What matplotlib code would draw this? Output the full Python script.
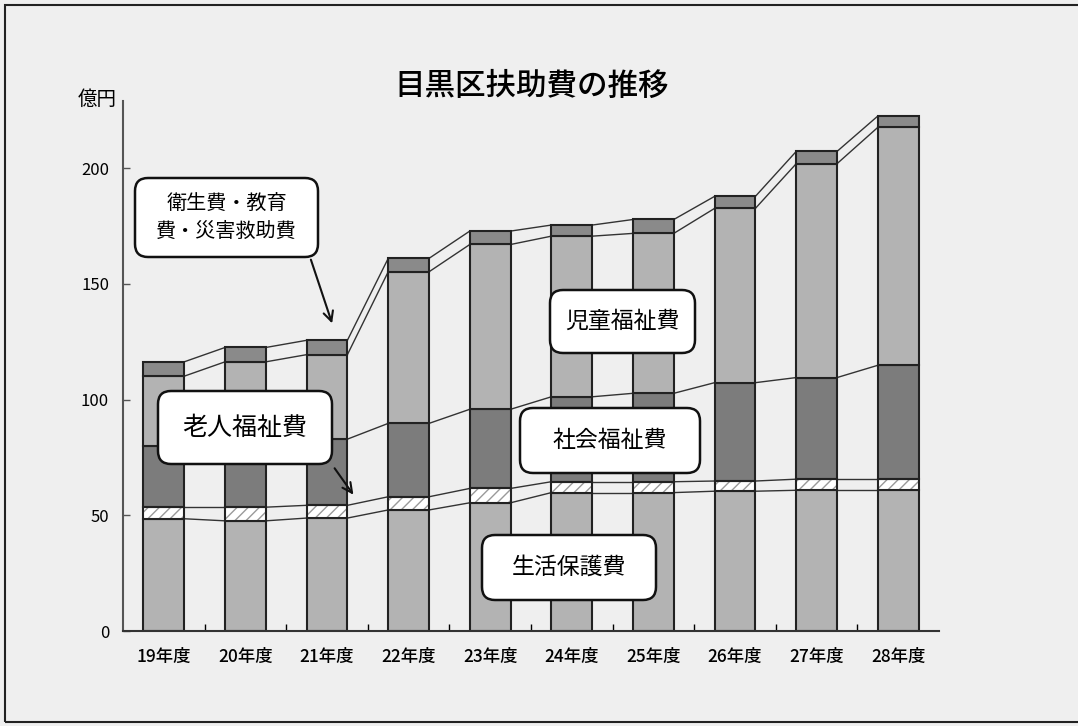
import numpy as np
import matplotlib
matplotlib.use('Agg')
import matplotlib.pyplot as plt
from matplotlib.patches import FancyBboxPatch, Rectangle

plt.rcParams['font.family'] = ['Noto Sans CJK JP', 'DejaVu Sans']

# ---------- data (億円) ------------------------------------------------------
years = ['19年度', '20年度', '21年度', '22年度', '23年度',
         '24年度', '25年度', '26年度', '27年度', '28年度']
seikatsu = [48.5, 47.6, 48.8, 52.3, 55.4, 59.8, 59.8, 60.4, 60.8, 60.8]   # 生活保護費
roujin   = [5.0, 5.9, 5.5, 5.7, 6.2, 4.7, 4.7, 4.4, 4.8, 4.8]             # 老人福祉費
shakai   = [26.3, 27.5, 28.6, 31.7, 34.2, 36.7, 38.2, 42.5, 43.9, 49.2]   # 社会福祉費
jidou    = [30.3, 35.3, 36.5, 65.5, 71.2, 69.4, 69.1, 75.3, 92.4, 102.8]  # 児童福祉費
eisei    = [6.2, 6.2, 6.2, 5.8, 5.8, 4.8, 6.0, 5.2, 5.3, 4.9]             # 衛生費・教育費・災害救助費

W, H = 1078, 726
fig = plt.figure(figsize=(W / 100, H / 100), dpi=100)
fig.patch.set_facecolor('#efefef')

# axes placed in pixel terms of the reference
ax_l, ax_r, ax_b, ax_t = 123, 939, 631, 101
ax = fig.add_axes([ax_l / W, 1 - ax_b / H, (ax_r - ax_l) / W, (ax_b - ax_t) / H])
ax.set_facecolor('#efefef')

x = np.arange(len(years))
bw = 0.5
light = '#b3b3b3'
dark = '#7c7c7c'
top_c = '#8a8a8a'

series = [seikatsu, roujin, shakai, jidou, eisei]
colors = [light, 'white', dark, light, top_c]

bottom = np.zeros(len(years))
levels = []
for i, (vals, col) in enumerate(zip(series, colors)):
    vals = np.array(vals)
    if i == 1:
        ax.bar(x, vals, bw, bottom=bottom, color='white', hatch='///',
               edgecolor='#9a9a9a', linewidth=0, zorder=2)
        ax.bar(x, vals, bw, bottom=bottom, fill=False, edgecolor='#222222',
               linewidth=1.5, zorder=3)
    else:
        ax.bar(x, vals, bw, bottom=bottom, color=col, edgecolor='#222222',
               linewidth=1.5, zorder=2)
    bottom = bottom + vals
    levels.append(bottom.copy())

# series lines between bars
for lev in levels:
    for j in range(len(years) - 1):
        ax.plot([x[j] + bw / 2, x[j + 1] - bw / 2], [lev[j], lev[j + 1]],
                color='#333333', lw=1.0, zorder=1)

ax.set_xlim(-0.5, len(years) - 0.5)
ax.set_ylim(0, 229)
ax.set_yticks([0, 50, 100, 150, 200])
ax.tick_params(axis='y', direction='in', length=5, width=1, labelsize=12,
               pad=10, color='#555555')
ax.set_xticks(x)
ax.set_xticklabels(years, fontsize=12.5, fontweight='medium')
ax.tick_params(axis='x', length=0, pad=12)
ax.set_xticks(np.arange(0.5, len(years) - 0.5, 1), minor=True)
ax.tick_params(axis='x', which='minor', direction='in', length=5, width=1)
for s in ['top', 'right']:
    ax.spines[s].set_visible(False)
ax.spines['left'].set_color('#555555')
ax.spines['left'].set_linewidth(1.5)
ax.spines['bottom'].set_color('#333333')
ax.spines['bottom'].set_linewidth(1.5)

# ---------- title, unit, frame -----------------------------------------------
fig.text(532 / W, 1 - 86 / H, '目黒区扶助費の推移', ha='center', va='center',
         fontsize=22, fontweight='medium')
fig.text(97 / W, 1 - 99 / H, '億円', ha='center', va='center', fontsize=14)
fig.patches.append(Rectangle((5 / 100, 4 / 100), 12, (H - 9) / 100,
                             transform=fig.dpi_scale_trans, fill=False,
                             edgecolor='#222222', lw=1.5))

# ---------- callouts (pixel boxes) -------------------------------------------
def px(xp, yp):
    return xp / 100, (H - yp) / 100

def callout(x0, y0, x1, y1, text, fs, ls=1.2):
    bx, by = px(x0, y1)
    box = FancyBboxPatch((bx, by), (x1 - x0) / 100, (y1 - y0) / 100,
                         boxstyle='round,pad=0,rounding_size=0.13',
                         transform=fig.dpi_scale_trans, facecolor='white',
                         edgecolor='#111111', lw=1.8, zorder=5)
    fig.patches.append(box)
    cx, cy = px((x0 + x1) / 2, (y0 + y1) / 2)
    fig.text(cx, cy, text, transform=fig.dpi_scale_trans, ha='center',
             va='center', fontsize=fs, linespacing=ls, zorder=6)

def arrow(xp0, yp0, xp1, yp1):
    ax.annotate('', xy=px(xp1, yp1), xycoords=fig.dpi_scale_trans,
                xytext=px(xp0, yp0), textcoords=fig.dpi_scale_trans,
                arrowprops=dict(arrowstyle='->,head_length=0.7,head_width=0.35',
                                color='#111111', lw=1.5), zorder=6)

callout(135, 178, 318, 257, '衛生費・教育\n費・災害救助費', 14.5, 1.45)
arrow(310, 257, 333, 326)
callout(158, 391, 332, 464, '老人福祉費', 18)
arrow(333, 466, 355, 497)
callout(550, 290, 695, 353, '児童福祉費', 16.5)
callout(520, 408, 700, 473, '社会福祉費', 16.5)
callout(482, 535, 656, 600, '生活保護費', 16.5)

fig.savefig('out.png', dpi=100, facecolor=fig.get_facecolor())
